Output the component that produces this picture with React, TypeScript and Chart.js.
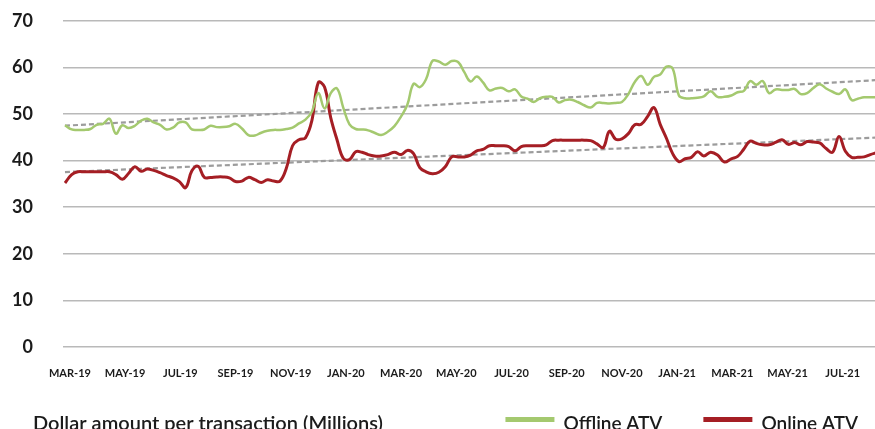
import React, { useEffect, useRef } from "react";
import { Chart, registerables } from "chart.js";

Chart.register(...registerables);

// First weekly observation: 24 Feb 2019
const firstWeek = [2019, 1, 24];

const tickLabels = [
  "MAR-19", "MAY-19", "JUL-19", "SEP-19", "NOV-19", "JAN-20", "MAR-20", "MAY-20",
  "JUL-20", "SEP-20", "NOV-20", "JAN-21", "MAR-21", "MAY-21", "JUL-21",
];

const offlineATV = [
  47.6, 46.7, 46.6, 46.6, 46.8, 47.7, 47.9, 49.0, 45.8, 47.6,
  47.0, 47.5, 48.6, 49.0, 48.2, 47.7, 46.7, 47.1, 48.2, 48.2,
  46.7, 46.6, 46.7, 47.5, 47.2, 47.2, 47.4, 47.9, 46.9, 45.5,
  45.4, 46.0, 46.4, 46.6, 46.6, 46.8, 47.1, 48.0, 48.8, 50.5,
  54.5, 51.2, 54.5, 55.5, 51.4, 47.8, 46.8, 46.7, 46.5, 46.0,
  45.5, 46.2, 47.4, 49.5, 52.0, 56.5, 55.8, 57.5, 61.4, 61.3,
  60.6, 61.4, 61.2, 59.0, 57.0, 58.1, 56.8, 55.1, 55.5, 55.6,
  54.9, 55.3, 53.8, 53.3, 52.6, 53.4, 53.7, 53.7, 52.5, 53.0,
  53.1, 52.6, 51.9, 51.4, 52.4, 52.4, 52.3, 52.4, 52.6, 54.3,
  56.9, 58.2, 56.3, 58.0, 58.5, 60.2, 59.8, 54.0, 53.4, 53.4,
  53.5, 53.8, 54.9, 53.7, 53.7, 54.0, 54.7, 55.0, 57.1, 56.3,
  57.1, 54.5, 55.3, 55.2, 55.2, 55.4, 54.3, 54.5, 55.6, 56.4,
  55.5, 54.8, 54.3, 55.3, 53.0, 53.3, 53.6, 53.6, 53.6,
];

const onlineATV = [
  35.2, 37.0, 37.6, 37.6, 37.6, 37.6, 37.6, 37.6, 37.0, 36.0,
  37.3, 38.7, 37.7, 38.2, 37.9, 37.4, 36.8, 36.3, 35.5, 34.2,
  37.8, 38.8, 36.4, 36.4, 36.5, 36.5, 36.3, 35.5, 35.6, 36.4,
  35.9, 35.3, 35.9, 35.6, 35.6, 38.3, 43.2, 44.5, 44.9, 48.6,
  56.8, 55.8, 49.2, 44.5, 40.5, 40.2, 41.9, 41.8, 41.3, 41.0,
  41.0, 41.3, 41.8, 41.3, 42.2, 41.5, 38.5, 37.6, 37.2, 37.5,
  38.7, 40.8, 40.8, 40.8, 41.2, 42.1, 42.4, 43.2, 43.2, 43.2,
  43.0, 42.1, 43.0, 43.2, 43.2, 43.2, 43.4, 44.3, 44.4, 44.4,
  44.4, 44.4, 44.4, 44.3, 43.6, 42.8, 46.3, 44.6, 44.7, 45.8,
  47.7, 47.8, 49.5, 51.4, 47.8, 44.8, 41.5, 39.8, 40.4, 40.7,
  41.9, 41.0, 41.8, 41.2, 39.7, 40.4, 40.9, 42.5, 44.2, 43.7,
  43.4, 43.4, 43.9, 44.5, 43.5, 43.9, 43.4, 44.1, 44.0, 43.8,
  42.6, 41.8, 45.2, 42.0, 40.7, 40.7, 40.8, 41.3, 41.7,
];

// Linear trend lines: value at first and last week
const offlineTrend = [47.5, 57.3];
const onlineTrend = [37.55, 44.95];

const seriesNames = ["Offline ATV", "Online ATV"];
const caption = "Dollar amount per transaction (Millions)";

const GREEN = "#a4c96f";
const RED = "#a51e24";
const TREND = "#9c9c9c";
const FONT = "Lato, 'Open Sans', sans-serif";

// fractional months since 1 Mar 2019
function monthPos(d: Date): number {
  const dim = new Date(d.getFullYear(), d.getMonth() + 1, 0).getDate();
  return (d.getFullYear() - 2019) * 12 + d.getMonth() - 2 + (d.getDate() - 1) / dim;
}

function weekX(i: number): number {
  const d = new Date(firstWeek[0], firstWeek[1], firstWeek[2] + 7 * i);
  return monthPos(d);
}

const bottomPlugin = {
  id: "bottomText",
  afterDraw(chart: any) {
    const ctx = chart.ctx as CanvasRenderingContext2D;
    ctx.save();
    ctx.fillStyle = "#1b1b1b";
    ctx.textBaseline = "alphabetic";
    ctx.font = `600 20px ${FONT}`;
    ctx.fillText(caption, 33, 430);
    // legend, right aligned
    ctx.font = `600 19px ${FONT}`;
    const colors = [GREEN, RED];
    let right = 858;
    for (let k = seriesNames.length - 1; k >= 0; k--) {
      const w = ctx.measureText(seriesNames[k]).width;
      const tx = right - w;
      ctx.fillStyle = "#1b1b1b";
      ctx.fillText(seriesNames[k], tx, 430);
      ctx.strokeStyle = colors[k];
      ctx.lineWidth = 5;
      ctx.beginPath();
      ctx.moveTo(tx - 9 - 49, 419.5);
      ctx.lineTo(tx - 9, 419.5);
      ctx.stroke();
      right = tx - 9 - 49 - 41;
    }
    ctx.restore();
  },
};

export default function App() {
  const ref = useRef<HTMLCanvasElement | null>(null);

  useEffect(() => {
    if (!ref.current) return;
    const last = offlineATV.length - 1;
    const off = offlineATV.map((v, i) => ({ x: weekX(i), y: v }));
    const on = onlineATV.map((v, i) => ({ x: weekX(i), y: v }));
    const offT = [
      { x: weekX(0), y: offlineTrend[0] },
      { x: weekX(last), y: offlineTrend[1] },
    ];
    const onT = [
      { x: weekX(0), y: onlineTrend[0] },
      { x: weekX(last), y: onlineTrend[1] },
    ];

    const chart = new Chart(ref.current, {
      type: "line",
      data: {
        datasets: [
          {
            label: seriesNames[0],
            data: off,
            borderColor: GREEN,
            backgroundColor: GREEN,
            borderWidth: 2.5,
            pointRadius: 0,
            tension: 0.4,
          },
          {
            label: seriesNames[1],
            data: on,
            borderColor: RED,
            backgroundColor: RED,
            borderWidth: 3,
            pointRadius: 0,
            tension: 0.4,
          },
          {
            label: "Offline trend",
            data: offT,
            borderColor: TREND,
            borderWidth: 2.2,
            borderDash: [5, 3],
            pointRadius: 0,
          },
          {
            label: "Online trend",
            data: onT,
            borderColor: TREND,
            borderWidth: 2.2,
            borderDash: [5, 3],
            pointRadius: 0,
          },
        ],
      },
      options: {
        animation: false,
        responsive: true,
        maintainAspectRatio: false,
        layout: { padding: { top: 21, bottom: 29, left: 0, right: 0 } },
        plugins: {
          legend: { display: false },
          tooltip: { enabled: false },
          title: { display: false },
        },
        scales: {
          x: {
            type: "linear",
            min: -0.25,
            max: 29.17,
            grid: { display: false, drawTicks: false },
            border: { display: false },
            afterBuildTicks: (scale: any) => {
              scale.ticks = tickLabels.map((_, k) => ({ value: k * 2 }));
            },
            afterFit: (scale: any) => {
              scale.paddingRight = 0;
              scale.paddingLeft = 0;
            },
            ticks: {
              autoSkip: false,
              maxRotation: 0,
              padding: 20,
              color: "#1b1b1b",
              font: { family: FONT, size: 11, weight: "bold" },
              callback: (_v: any, idx: number) => tickLabels[idx] ?? "",
            },
          },
          y: {
            min: 0,
            max: 70,
            afterFit: (scale: any) => {
              scale.width = 63;
              scale.paddingTop = 0;
              scale.paddingBottom = 0;
            },
            grid: { color: "#b9b9b9", lineWidth: 1.5, drawTicks: false },
            border: { display: false },
            ticks: {
              stepSize: 10,
              padding: 30,
              color: "#1b1b1b",
              font: { family: FONT, size: 18, weight: "bold" },
            },
          },
        },
      },
      plugins: [bottomPlugin],
    });
    return () => chart.destroy();
  }, []);

  return (
    <div style={{ position: "fixed", left: 0, top: 0, width: 875, height: 429 }}>
      <canvas ref={ref} />
    </div>
  );
}
